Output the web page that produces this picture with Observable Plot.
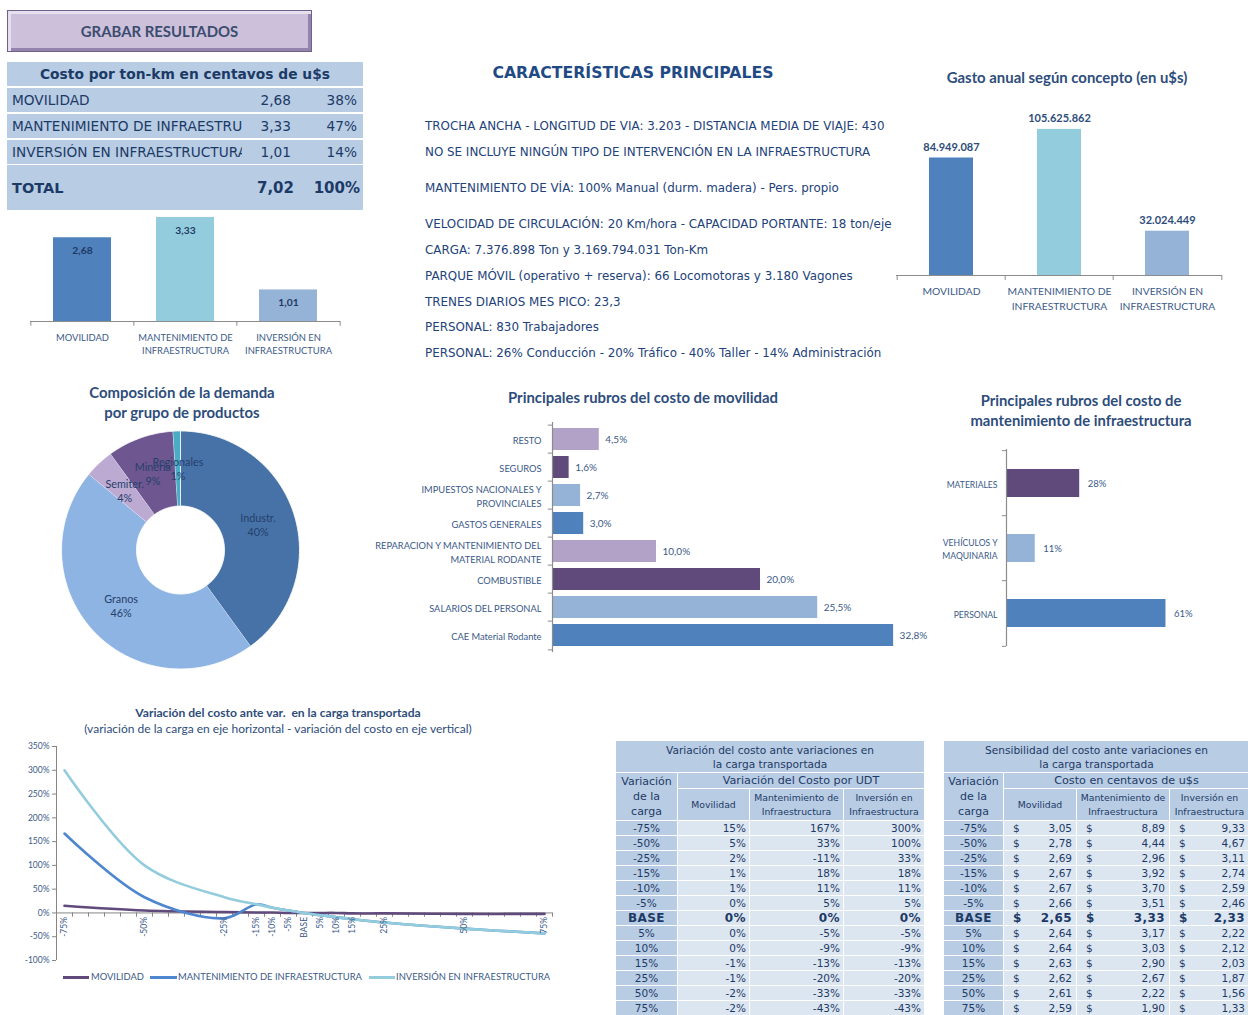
<!DOCTYPE html>
<html lang="es"><head><meta charset="utf-8">
<script src="https://cdn.jsdelivr.net/npm/d3@7"></script>
<script src="https://cdn.jsdelivr.net/npm/@observablehq/plot@0.6"></script>
<style>
html,body{margin:0;padding:0;background:#fff;}
body{width:1248px;height:1015px;position:relative;overflow:hidden;font-family:"Liberation Sans",Arial,sans-serif;}
.abs{position:absolute;}
.title{position:absolute;font-family:Lato,"Open Sans",sans-serif;font-weight:700;color:#2e4d7b;text-align:center;white-space:nowrap;}
.feat{position:absolute;left:425px;font-family:"DejaVu Sans",sans-serif;font-size:11.9px;color:#22427a;white-space:nowrap;line-height:14px;}
.krow{position:absolute;left:0;width:356px;background:#b8cce4;color:#1c3a66;font-family:"DejaVu Sans",sans-serif;font-size:13.7px;}
.krow span{position:absolute;top:50%;transform:translateY(-50%);white-space:nowrap;}
table.sens{position:absolute;border-collapse:collapse;table-layout:fixed;font-family:"DejaVu Sans",sans-serif;}
table.sens td{border:1.5px solid #fff;padding:0;overflow:hidden;white-space:nowrap;color:#1d3a66;font-size:10.5px;text-align:center;background:#b8cce4;line-height:13px;}
table.sens td.v{background:#dce6f1;text-align:right;padding-right:3px;}
table.sens td.m{background:#dce6f1;}
table.sens td.sub{font-size:9.3px;line-height:14px;}
table.sens tr.base td{font-weight:bold;font-size:12px;letter-spacing:0.4px;}
.btn{position:absolute;left:7px;top:10px;width:303px;height:40px;background:#ccc0da;border:1px solid #6f6189;box-shadow:inset 3px 3px 0 #e6e0ee,inset -3px -3px 0 #9484ad;font-family:Lato,sans-serif;font-weight:700;font-size:14.9px;color:#3c4c6e;text-align:center;line-height:40px;}
.leg{position:absolute;font-family:Lato,sans-serif;font-size:9.4px;color:#3b5a88;white-space:nowrap;}
.sw{position:absolute;height:3px;}
</style></head><body>
<script>
// ---------------- DATA ----------------
const costCats = ["MOVILIDAD", "MANTENIMIENTO DE\nINFRAESTRUCTURA", "INVERSIÓN EN\nINFRAESTRUCTURA"];
const costTableLabels = ["MOVILIDAD", "MANTENIMIENTO DE INFRAESTRUCTURA", "INVERSIÓN EN INFRAESTRUCTURA"];
const costPerTonKm = [2.68, 3.33, 1.01];
const costShare = [38, 47, 14];
const costTotal = 7.02;
const costTotalShare = 100;
const annualSpend = [84949087, 105625862, 32024449];
const catColors = ["#4f81bd", "#93cddd", "#95b3d7"];

const featureTitle = "CARACTERÍSTICAS PRINCIPALES";
const featureLines = [
  "TROCHA ANCHA - LONGITUD DE VIA: 3.203 - DISTANCIA MEDIA DE VIAJE: 430",
  "NO SE INCLUYE NINGÚN TIPO DE INTERVENCIÓN EN LA INFRAESTRUCTURA",
  "MANTENIMIENTO DE VÍA: 100% Manual (durm. madera) - Pers. propio",
  "VELOCIDAD DE CIRCULACIÓN: 20 Km/hora - CAPACIDAD PORTANTE: 18 ton/eje",
  "CARGA: 7.376.898 Ton y 3.169.794.031 Ton-Km",
  "PARQUE MÓVIL (operativo + reserva): 66 Locomotoras y 3.180 Vagones",
  "TRENES DIARIOS MES PICO: 23,3",
  "PERSONAL: 830 Trabajadores",
  "PERSONAL: 26% Conducción - 20% Tráfico - 40% Taller - 14% Administración"
];

const demandCats = ["Industr.", "Granos", "Semiter.", "Minería", "Regionales"];
const demandShare = [40, 46, 4, 9, 1];
const demandColors = ["#4672a8", "#8eb4e3", "#bcaad2", "#6e5690", "#4bacc6"];

const mobCats = ["RESTO", "SEGUROS", "IMPUESTOS NACIONALES Y\nPROVINCIALES", "GASTOS GENERALES",
  "REPARACION Y MANTENIMIENTO DEL\nMATERIAL RODANTE", "COMBUSTIBLE", "SALARIOS DEL PERSONAL", "CAE Material Rodante"];
const mobShare = [4.5, 1.6, 2.7, 3.0, 10.0, 20.0, 25.5, 32.8];
const mobColors = ["#b3a2c7", "#604a7b", "#95b3d7", "#4f81bd", "#b3a2c7", "#604a7b", "#95b3d7", "#4f81bd"];

const maintCats = ["MATERIALES", "VEHÍCULOS Y\nMAQUINARIA", "PERSONAL"];
const maintShare = [28, 11, 61];
const maintColors = ["#604a7b", "#95b3d7", "#4f81bd"];

const loadVar = [-75, -50, -25, -15, -10, -5, 0, 5, 10, 15, 25, 50, 75];
const loadLabels = ["-75%", "-50%", "-25%", "-15%", "-10%", "-5%", "BASE", "5%", "10%", "15%", "25%", "50%", "75%"];
const seriesNames = ["MOVILIDAD", "MANTENIMIENTO DE INFRAESTRUCTURA", "INVERSIÓN EN INFRAESTRUCTURA"];
const seriesColors = ["#604a7b", "#4f86d0", "#93cddd"];
const varMov = [15, 5, 2, 1, 1, 0, 0, 0, 0, -1, -1, -2, -2];
const varMant = [167, 33, -11, 18, 11, 5, 0, -5, -9, -13, -20, -33, -43];
const varInv = [300, 100, 33, 18, 11, 5, 0, -5, -9, -13, -20, -33, -43];
const costMov = [3.05, 2.78, 2.69, 2.67, 2.67, 2.66, 2.65, 2.64, 2.64, 2.63, 2.62, 2.61, 2.59];
const costMant = [8.89, 4.44, 2.96, 3.92, 3.70, 3.51, 3.33, 3.17, 3.03, 2.90, 2.67, 2.22, 1.90];
const costInv = [9.33, 4.67, 3.11, 2.74, 2.59, 2.46, 2.33, 2.22, 2.12, 2.03, 1.87, 1.56, 1.33];

// ---------------- HELPERS ----------------
const loc = d3.formatLocale({decimal: ",", thousands: ".", grouping: [3], currency: ["$", ""]});
const f2 = loc.format(".2f"), f1 = loc.format(".1f"), fInt = loc.format(",.0f");
const body = document.body;
const TXT = "#35507c";
const AXIS = "#8c8c8c";
const baseStyle = {background: "transparent", overflow: "visible", fontFamily: "Lato, 'Open Sans', sans-serif", color: TXT};
function place(el, left, top) {
  const d = document.createElement("div");
  d.className = "abs"; d.style.left = left + "px"; d.style.top = top + "px";
  d.appendChild(el); body.appendChild(d); return d;
}
function title(html, cx, top, size, lh, extra) {
  const d = document.createElement("div");
  d.className = "title";
  d.style.cssText += `left:${cx - 250}px;width:500px;top:${top}px;font-size:${size}px;line-height:${lh}px;` + (extra || "");
  d.innerHTML = html; body.appendChild(d); return d;
}
// band-boundary tick marks (category axis separators, like the spreadsheet chart)
function bandTicksX(cats, step, y2) {
  return [
    Plot.ruleX(cats, {x: d => d, dx: -step / 2, y1: 0, y2, stroke: AXIS}),
    Plot.ruleX(cats.slice(-1), {x: d => d, dx: step / 2, y1: 0, y2, stroke: AXIS})
  ];
}
function bandTicksY(cats, step, x2) {
  return [
    Plot.ruleY(cats, {y: d => d, dy: -step / 2, x1: 0, x2, stroke: AXIS}),
    Plot.ruleY(cats.slice(-1), {y: d => d, dy: step / 2, x1: 0, x2, stroke: AXIS})
  ];
}

// ---------------- BUTTON ----------------
const btn = document.createElement("div"); btn.className = "btn"; btn.textContent = "GRABAR RESULTADOS"; body.appendChild(btn);

// ---------------- COST TABLE (top-left) ----------------
const kt = document.createElement("div");
kt.style.cssText = "position:absolute;left:7px;top:62px;width:356px;height:148px;";
body.appendChild(kt);
{
  const h = document.createElement("div"); h.className = "krow";
  h.style.cssText += "top:0;height:24px;font-weight:bold;font-size:13.8px;";
  h.innerHTML = `<span style="left:0;width:356px;text-align:center">Costo por ton-km en centavos de u$s</span>`;
  kt.appendChild(h);
  const tops = [26, 52, 78];
  costTableLabels.forEach((lab, i) => {
    const r = document.createElement("div"); r.className = "krow";
    r.style.cssText += `top:${tops[i]}px;height:24px;`;
    r.innerHTML = `<span style="left:5px;width:230px;overflow:hidden">${lab}</span>` +
      `<span style="right:72px">${f2(costPerTonKm[i])}</span><span style="right:6px">${costShare[i]}%</span>`;
    kt.appendChild(r);
  });
  const t = document.createElement("div"); t.className = "krow";
  t.style.cssText += "top:103px;height:45px;font-weight:bold;font-size:14.5px;";
  t.innerHTML = `<span style="left:5px">TOTAL</span><span style="right:69px;font-size:15px">${f2(costTotal)}</span><span style="right:3px;font-size:15px">${costTotalShare}%</span>`;
  kt.appendChild(t);
}

// ---------------- SMALL BAR CHART ----------------
{
  const data = costCats.map((c, i) => ({cat: c, v: costPerTonKm[i], color: catColors[i]}));
  const p = Plot.plot({
    width: 360, height: 171, marginLeft: 30, marginRight: 20, marginTop: 6, marginBottom: 40,
    style: baseStyle,
    x: {domain: costCats, paddingInner: 0.44, paddingOuter: 0.22, axis: null},
    y: {domain: [0, 4], axis: null},
    marks: [
      Plot.barY(data, {x: "cat", y: "v", fill: "color"}),
      Plot.text(data, {x: "cat", y: "v", text: d => f2(d.v), dy: 13, fontWeight: "bold", fontSize: 10.3, fill: "#1f3864"}),
      ...bandTicksX(costCats, 310 / 3, -0.15),
      Plot.ruleY([0], {stroke: AXIS, strokeWidth: 1.2}),
      Plot.text(data, {x: "cat", text: "cat", frameAnchor: "bottom", lineAnchor: "top", dy: 10, lineHeight: 1.4, fontSize: 9.4, fill: "#3b5a88"})
    ]
  });
  place(p, 0, 190);
}

// ---------------- FEATURES ----------------
title(featureTitle, 633, 62, 15.7, 22, "font-family:'DejaVu Sans',sans-serif;color:#1f4a85;");
{
  const ys = [126, 152, 188, 224, 250, 276, 302, 327, 353];
  featureLines.forEach((t, i) => {
    const d = document.createElement("div"); d.className = "feat";
    d.style.top = (ys[i] - 7) + "px"; d.textContent = t; body.appendChild(d);
  });
}

// ---------------- ANNUAL SPEND ----------------
title("Gasto anual según concepto (en u$s)", 1067, 68, 14.9, 19);
{
  const data = costCats.map((c, i) => ({cat: c, v: annualSpend[i], color: catColors[i]}));
  const p = Plot.plot({
    width: 368, height: 220, marginLeft: 16, marginRight: 26, marginTop: 9, marginBottom: 45,
    style: baseStyle,
    x: {domain: costCats, paddingInner: 0.59, paddingOuter: 0.295, axis: null},
    y: {domain: [0, 120e6], axis: null},
    marks: [
      Plot.barY(data, {x: "cat", y: "v", fill: "color"}),
      Plot.text(data, {x: "cat", y: "v", text: d => fInt(d.v), dy: -11, fontWeight: "bold", fontSize: 11, fill: "#2e4d7b"}),
      ...bandTicksX(costCats, 326 / 3, -3.6e6),
      Plot.ruleY([0], {stroke: AXIS, strokeWidth: 1.2}),
      Plot.text(data, {x: "cat", text: "cat", frameAnchor: "bottom", lineAnchor: "top", dy: 9, lineHeight: 1.45, fontSize: 10.3, fill: "#3b5a88"})
    ]
  });
  place(p, 880, 100);
}

// ---------------- DONUT ----------------
title("Composición de la demanda<br>por grupo de productos", 182, 383, 14.9, 19.5);
{
  const total = d3.sum(demandShare);
  const rIn = 0.37, N = 60;
  let acc = 0;
  const slices = demandCats.map((c, i) => {
    const a0 = acc / total * 2 * Math.PI; acc += demandShare[i];
    const a1 = acc / total * 2 * Math.PI;
    const pts = [];
    for (let k = 0; k <= N; k++) { const a = a0 + (a1 - a0) * k / N; pts.push({x: Math.sin(a), y: Math.cos(a)}); }
    for (let k = N; k >= 0; k--) { const a = a0 + (a1 - a0) * k / N; pts.push({x: rIn * Math.sin(a), y: rIn * Math.cos(a)}); }
    const am = (a0 + a1) / 2, rm = (1 + rIn) / 2;
    return {cat: c, share: demandShare[i], color: demandColors[i], pts, lx: rm * Math.sin(am), ly: rm * Math.cos(am)};
  });
  const p = Plot.plot({
    width: 280, height: 250, marginLeft: 21, marginRight: 21, marginTop: 5.5, marginBottom: 6.5,
    style: baseStyle,
    x: {domain: [-1, 1], axis: null}, y: {domain: [-1, 1], axis: null},
    marks: [
      ...slices.map(s => Plot.line(s.pts, {x: "x", y: "y", fill: s.color, stroke: "#fff", strokeWidth: 0.8})),
      Plot.text(slices, {x: "lx", y: "ly", text: d => d.cat + "\n" + d.share + "%", fontSize: 10.8, lineHeight: 1.3, fill: "#26406b"})
    ]
  });
  place(p, 40, 425);
}

// ---------------- MOBILITY COST ITEMS ----------------
title("Principales rubros del costo de movilidad", 643, 388, 14.9, 19);
{
  const data = mobCats.map((c, i) => ({cat: c, v: mobShare[i], color: mobColors[i]}));
  const p = Plot.plot({
    width: 560, height: 245, marginLeft: 182, marginRight: 14, marginTop: 7, marginBottom: 8,
    style: baseStyle,
    x: {domain: [0, 35], axis: null},
    y: {domain: mobCats, paddingInner: 0.2, paddingOuter: 0.1, axis: null},
    marks: [
      Plot.barX(data, {y: "cat", x: "v", fill: "color"}),
      Plot.text(data, {y: "cat", x: "v", text: d => f1(d.v) + "%", textAnchor: "start", dx: 6, fontSize: 10, fill: "#3b5a88"}),
      ...bandTicksY(mobCats, 230 / 8, -0.4),
      Plot.ruleX([0], {stroke: AXIS, strokeWidth: 1.2}),
      Plot.text(data, {y: "cat", text: "cat", frameAnchor: "left", textAnchor: "end", dx: -11, lineHeight: 1.45, fontSize: 9.3, fill: "#3b5a88"})
    ]
  });
  place(p, 370, 415);
}

// ---------------- MAINTENANCE COST ITEMS ----------------
title("Principales rubros del costo de<br>mantenimiento de infraestructura", 1081, 390, 14.8, 20);
{
  const data = maintCats.map((c, i) => ({cat: c, v: maintShare[i], color: maintColors[i]}));
  const p = Plot.plot({
    width: 318, height: 215, marginLeft: 76, marginRight: 59, marginTop: 9, marginBottom: 9,
    style: baseStyle,
    x: {domain: [0, 70], axis: null},
    y: {domain: maintCats, paddingInner: 0.57, paddingOuter: 0.285, axis: null},
    marks: [
      Plot.barX(data, {y: "cat", x: "v", fill: "color"}),
      Plot.text(data, {y: "cat", x: "v", text: d => d.v + "%", textAnchor: "start", dx: 8, fontSize: 9.5, fill: "#3b5a88"}),
      ...bandTicksY(maintCats, 197 / 3, -1.6),
      Plot.ruleX([0], {stroke: AXIS, strokeWidth: 1.2}),
      Plot.text(data, {y: "cat", text: "cat", frameAnchor: "left", textAnchor: "end", dx: -9, lineHeight: 1.5, fontSize: 8.6, fill: "#3b5a88"})
    ]
  });
  place(p, 930, 440);
}

// ---------------- LINE CHART ----------------
title("Variación del costo ante var.&nbsp; en la carga transportada", 278, 705, 12.1, 15);
title("(variación de la carga en eje horizontal - variación del costo en eje vertical)", 278, 721, 12, 15, "font-weight:400;");
{
  const seriesVals = [varMov, varMant, varInv];
  const lineData = seriesNames.flatMap((s, j) => loadVar.map((x, i) => ({series: s, x, v: seriesVals[j][i]})));
  const xmin = -77.5, xmax = 77.5;
  const p = Plot.plot({
    width: 560, height: 230, marginLeft: 56, marginRight: 8, marginTop: 6, marginBottom: 10,
    style: baseStyle,
    x: {domain: [xmin, xmax], axis: null},
    y: {domain: [-100, 350], axis: null},
    color: {domain: seriesNames, range: seriesColors},
    marks: [
      Plot.axisY({ticks: d3.range(-100, 351, 50), tickFormat: d => d + "%", label: null, tickSize: 4, tickPadding: 3, fontSize: 8.5, stroke: "#868686", fill: "#3b5a88"}),
      Plot.ruleX([xmin], {stroke: "#868686"}),
      Plot.ruleY([0], {stroke: "#868686"}),
      Plot.ruleX(d3.range(xmin, xmax + 0.1, 5), {y1: 0, y2: -9, stroke: "#868686"}),
      Plot.line(lineData, {x: "x", y: "v", z: "series", stroke: "series", strokeWidth: 2.6, curve: "catmull-rom"}),
      Plot.text(loadVar, {x: d => d, y: 0, text: (d, i) => loadLabels[i], rotate: -90, textAnchor: "end", dy: 4, fontSize: 8.5, fill: "#3b5a88"})
    ]
  });
  place(p, 0, 740);
  // legend
  const legX = [[63, 26, 91], [150, 27, 178], [369, 26, 396]];
  seriesNames.forEach((s, i) => {
    const sw = document.createElement("div"); sw.className = "sw";
    sw.style.cssText += `left:${legX[i][0]}px;width:${legX[i][1]}px;top:976px;background:${seriesColors[i]};`;
    body.appendChild(sw);
    const t = document.createElement("div"); t.className = "leg";
    t.style.cssText += `left:${legX[i][2]}px;top:971px;`;
    t.textContent = s; body.appendChild(t);
  });
}

// ---------------- SENSITIVITY TABLES ----------------
function makeTable(left, top, colW, titleHtml, group, subs, cols, money) {
  const tbl = document.createElement("table");
  tbl.className = "sens";
  tbl.style.left = left + "px"; tbl.style.top = top + "px";
  tbl.style.width = d3.sum(colW) + "px";
  let html = "<colgroup>" + colW.map(w => `<col style="width:${w}px">`).join("") + "</colgroup>";
  html += `<tr style="height:32px"><td colspan="4" style="line-height:14px;font-size:10.6px">${titleHtml}</td></tr>`;
  html += `<tr style="height:16px"><td rowspan="2" style="line-height:15px;font-size:11px">Variación<br>de la<br>carga</td><td colspan="3" style="font-size:11.2px">${group}</td></tr>`;
  html += `<tr style="height:32px">` + subs.map(s => `<td class="sub">${s}</td>`).join("") + `</tr>`;
  loadLabels.forEach((lab, i) => {
    const base = lab === "BASE";
    html += `<tr style="height:15px" class="${base ? "base" : ""}"><td>${lab}</td>`;
    cols.forEach(c => {
      if (money) {
        html += `<td class="m"><div style="display:flex;justify-content:space-between;padding:0 4px 0 9px"><span>$</span><span>${f2(c[i])}</span></div></td>`;
      } else {
        html += `<td class="v">${c[i]}%</td>`;
      }
    });
    html += "</tr>";
  });
  tbl.innerHTML = html;
  body.appendChild(tbl);
}
makeTable(615, 740, [62, 72, 94, 81],
  "Variación del costo ante variaciones en<br>la carga transportada",
  "Variación del Costo por UDT",
  ["Movilidad", "Mantenimiento de<br>Infraestructura", "Inversión en<br>Infraestructura"],
  [varMov, varMant, varInv], false);
makeTable(943, 740, [60, 73, 93, 80],
  "Sensibilidad del costo ante variaciones en<br>la carga transportada",
  "Costo en centavos de u$s",
  ["Movilidad", "Mantenimiento de<br>Infraestructura", "Inversión en<br>Infraestructura"],
  [costMov, costMant, costInv], true);
</script>
</body></html>
